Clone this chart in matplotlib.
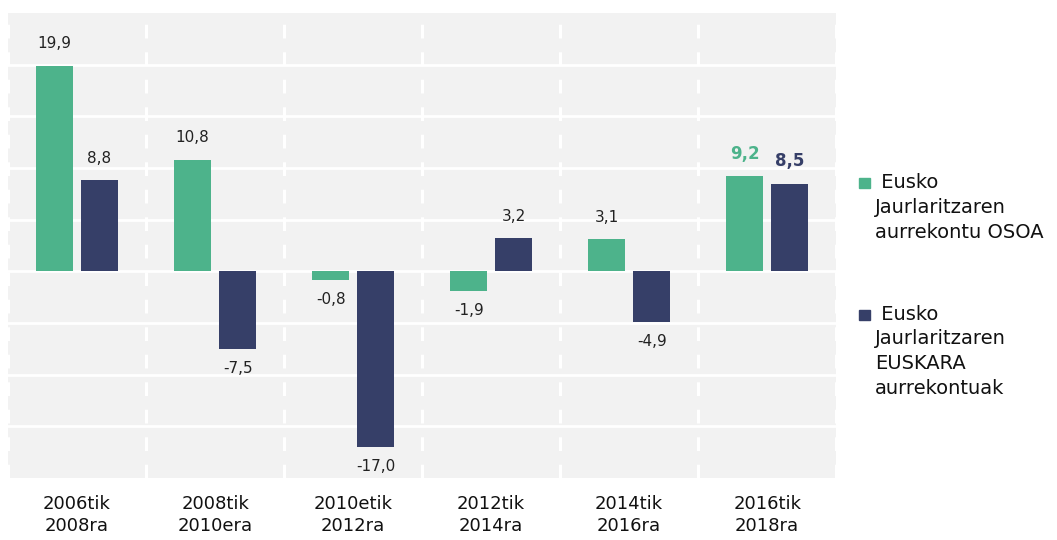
import numpy as np
import matplotlib.pyplot as plt

# Data
periods = ["2006tik\n2008ra", "2008tik\n2010era", "2010etik\n2012ra",
           "2012tik\n2014ra", "2014tik\n2016ra", "2016tik\n2018ra"]
osoa = [19.9, 10.8, -0.8, -1.9, 3.1, 9.2]
euskara = [8.8, -7.5, -17.0, 3.2, -4.9, 8.5]
series_names = ["Eusko\nJaurlaritzaren\naurrekontu OSOA",
                "Eusko\nJaurlaritzaren\nEUSKARA\naurrekontuak"]

green = "#4DB38B"
navy = "#363F68"
bg = "#F2F2F2"

plt.rcParams['font.family'] = ['DejaVu Sans']

fig = plt.figure(figsize=(10.57, 5.4), dpi=100)
ax = fig.add_axes([0.0076, 0.1148, 0.7835, 0.8611])
ax.set_facecolor(bg)

x = np.arange(len(periods))
w = 0.27
off = 0.163

# horizontal grid
for yv in np.arange(-15, 25, 5):
    ax.axhline(yv, color="white", lw=2, zorder=1)
# dashed category separators
for xv in np.arange(-0.5, len(periods) + 0.5, 1):
    ax.axvline(xv, color="white", lw=2.2, linestyle=(0, (4.5, 4.5)), zorder=1)

ax.bar(x - off, osoa, w, color=green, zorder=2)
ax.bar(x + off, euskara, w, color=navy, zorder=2)


def fmt(v):
    return ("%.1f" % v).replace(".", ",")


# value labels
for i in range(len(periods)):
    last = i == len(periods) - 1
    for xs, v, c in ((x[i] - off, osoa[i], green), (x[i] + off, euskara[i], navy)):
        if last:
            ax.annotate(fmt(v), (xs, v), xytext=(0, 16), textcoords="offset points",
                        ha="center", va="center", fontsize=12, fontweight="bold",
                        color=c)
        elif v >= 0:
            ax.annotate(fmt(v), (xs, v), xytext=(0, 16), textcoords="offset points",
                        ha="center", va="center", fontsize=11, color="#222222")
        else:
            ax.annotate(fmt(v), (xs, v), xytext=(0, -14), textcoords="offset points",
                        ha="center", va="center", fontsize=11, color="#222222")

ax.set_xlim(-0.5, len(periods) - 0.5)
ax.set_ylim(-20, 25)
ax.set_yticks([])
ax.set_xticks(x)
ax.set_xticklabels(periods, fontsize=13, color="#111111", linespacing=1.3)
ax.tick_params(axis="x", length=0, pad=12)
for s in ax.spines.values():
    s.set_visible(False)

# legend
leg_y = [0.661, 0.418]
for name, c, yy in zip(series_names, (green, navy), leg_y):
    fig.patches.append(plt.Rectangle((0.8125, yy - 0.01), 0.0104, 0.0185,
                                     transform=fig.transFigure, color=c))
    fig.text(0.828, yy + 0.018, " " + name, fontsize=14, color="#111111",
             va="top", ha="left", linespacing=1.38)

fig.savefig("out.png", dpi=100, facecolor="white")
